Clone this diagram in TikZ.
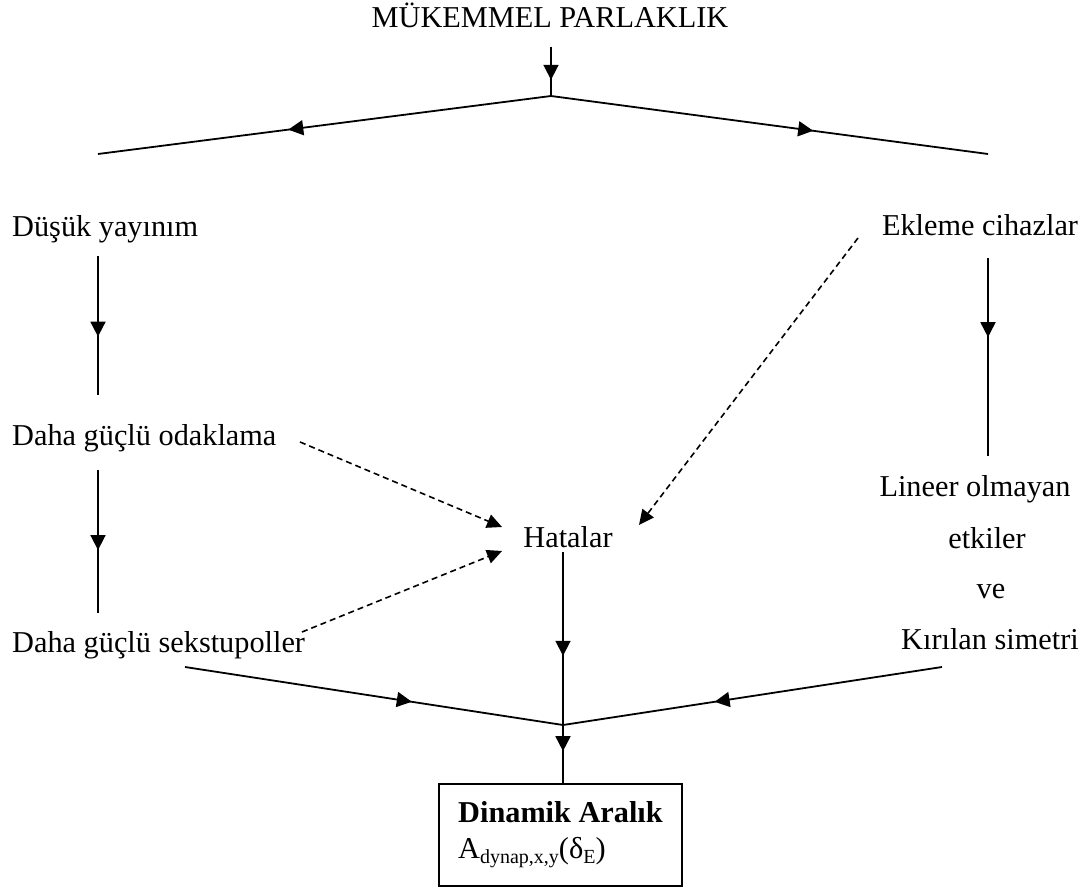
\documentclass[tikz,border=0pt]{standalone}
\usepackage{fontspec}
\setmainfont{Liberation Serif}
\usetikzlibrary{arrows.meta,decorations.markings}
\newcommand{\subtxt}[1]{\raisebox{-5pt}{\fontsize{20}{20}\selectfont #1}}
\tikzset{
  lbl/.style={inner sep=0pt, font=\fontsize{30.3}{32}\selectfont},
  conn/.style={line width=1.8pt},
  midarrow/.style={conn, postaction={decorate}, decoration={markings, mark=at position #1 with {\arrow{Triangle[length=15pt,width=15pt]}}}},
  dasharrow/.style={line width=1.6pt, dash pattern=on 6pt off 4pt, -{Triangle[length=15pt,width=14pt]}},
  framebox/.style={draw, line width=1.8pt, inner sep=0pt},
}
\begin{document}
\begin{tikzpicture}[x=1pt,y=-1pt]
\useasboundingbox (0,0) rectangle (1092,890);
% texts
\node[lbl, anchor=base] (title) at (550,28) {MÜKEMMEL PARLAKLIK};
\node[lbl, anchor=base west] (dusuk) at (12,237) {Düşük yayınım};
\node[lbl, anchor=base west] (odak) at (12,445) {Daha güçlü odaklama};
\node[lbl, anchor=base west] (sekst) at (12,652) {Daha güçlü sekstupoller};
\node[lbl, anchor=base] (ekleme) at (980,236) {Ekleme cihazlar};
\node[lbl, anchor=base] (lin1) at (975,496) {Lineer olmayan};
\node[lbl, anchor=base] (lin2) at (987,548) {etkiler};
\node[lbl, anchor=base] (lin3) at (991,598) {ve};
\node[lbl, anchor=base] (lin4) at (990,649) {Kırılan simetri};
\node[lbl, anchor=base] (hata) at (568,547) {Hatalar};
\node[framebox, minimum width=243pt, minimum height=102pt] (box) at (560.5,835) {};
\node[lbl, anchor=base west] (din) at (458,822) {\textbf{Dinamik Aralık}};
\node[lbl, anchor=base west] (adyn) at (458,858) {A\subtxt{dynap,x,y}(δ\subtxt{E})};
% junction and end coordinates
\coordinate (t0) at (551,47);
\coordinate (split) at (551,96);
\coordinate (lend) at (98,154);
\coordinate (rend) at (988,154);
\coordinate (l1a) at (98,256);
\coordinate (l1b) at (98,395);
\coordinate (l2a) at (98,470);
\coordinate (l2b) at (98,613);
\coordinate (r1a) at (988,258);
\coordinate (r1b) at (988,456);
\coordinate (h0) at (563,552);
\coordinate (merge) at (563,725);
\coordinate (bl) at (185,667);
\coordinate (br) at (942,667);
\coordinate (d1a) at (300,442);
\coordinate (d1b) at (502,527);
\coordinate (d2a) at (302,632);
\coordinate (d2b) at (502,551);
\coordinate (d3a) at (858,238);
\coordinate (d3b) at (639,525);
\coordinate (boxin) at (box.north -| merge);
% connectors
\draw[midarrow=0.67] (t0) -- (split);
\draw[midarrow=0.58] (split) -- (lend);
\draw[midarrow=0.6] (split) -- (rend);
\draw[midarrow=0.58] (l1a) -- (l1b);
\draw[midarrow=0.56] (l2a) -- (l2b);
\draw[midarrow=0.40] (r1a) -- (r1b);
\draw[midarrow=0.6] (h0) -- (merge);
\draw[midarrow=0.6] (bl) -- (merge);
\draw[midarrow=0.6] (br) -- (merge);
\draw[midarrow=0.45] (merge) -- (boxin);
\draw[dasharrow] (d1a) -- (d1b);
\draw[dasharrow] (d2a) -- (d2b);
\draw[dasharrow] (d3a) -- (d3b);
\end{tikzpicture}
\end{document}
